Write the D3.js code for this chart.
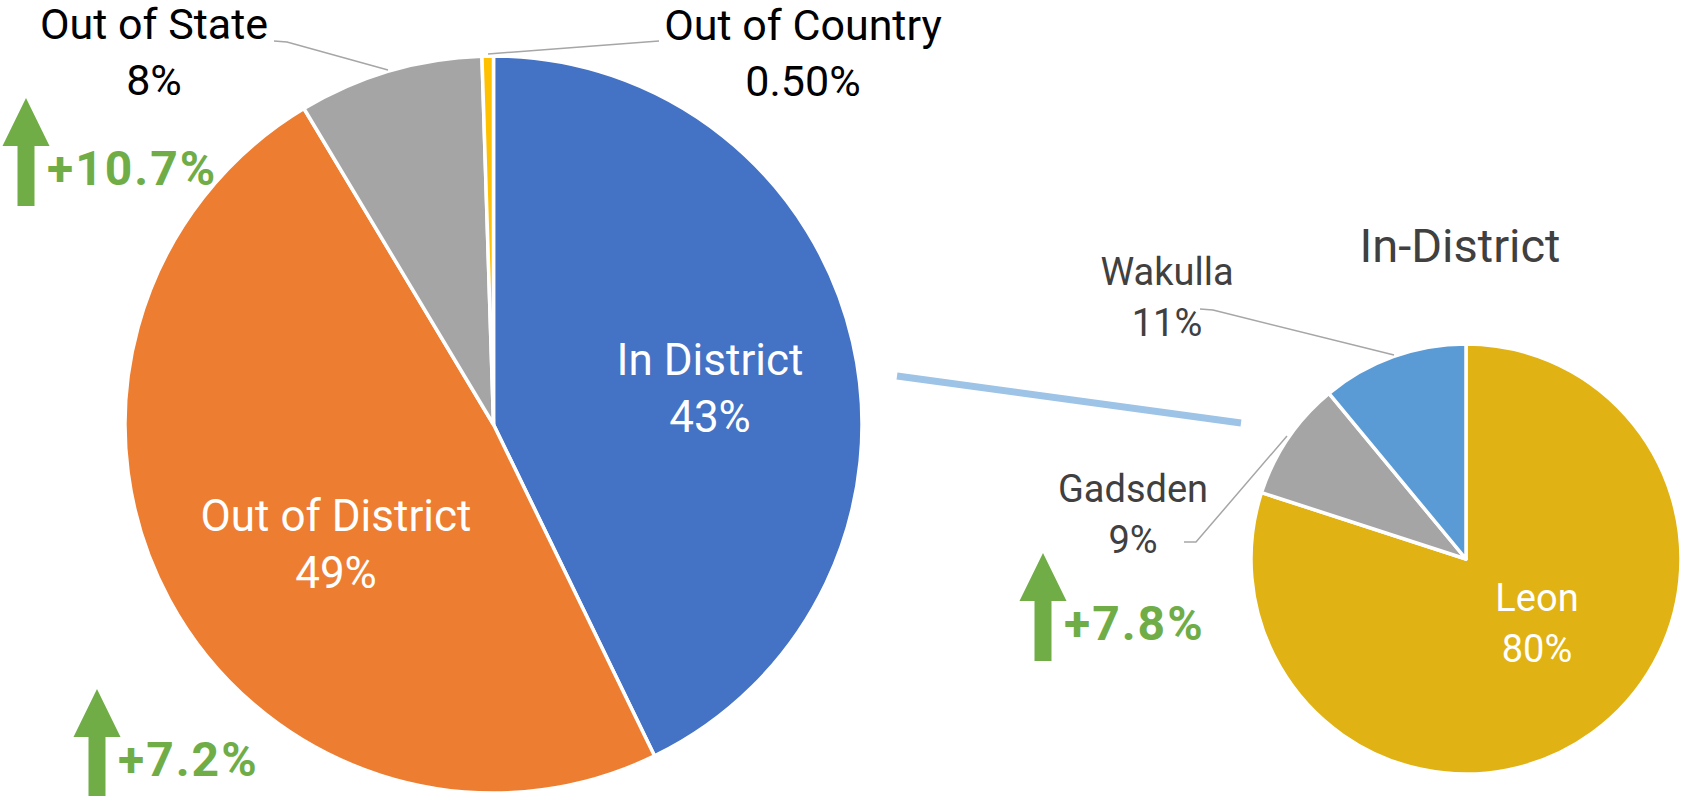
<!DOCTYPE html>
<html>
<head>
<meta charset="utf-8">
<script src="https://cdn.jsdelivr.net/npm/d3@7"></script>
<style>
  body { margin: 0; background: #fff; }
  svg { display: block; font-family: Roboto, "Liberation Sans", sans-serif; }
</style>
</head>
<body>
<div id="chart"></div>
<script>
// main pie: where students come from
const mainCategories = ["In District", "Out of District", "Out of State", "Out of Country"];
const mainValues = [42.8, 48.6, 8.1, 0.5];
const mainLabels = ["43%", "49%", "8%", "0.50%"];
const mainColors = ["#4472C4", "#ED7D31", "#A5A5A5", "#FFC000"];

// breakdown of the in-district slice
const subTitle = "In-District";
const subCategories = ["Leon", "Gadsden", "Wakulla"];
const subValues = [80, 9, 11];
const subLabels = ["80%", "9%", "11%"];
const subColors = ["#E1B213", "#A5A5A5", "#5B9BD5"];

// growth call-outs
const changes = ["+10.7%", "+7.2%", "+7.8%"];

const width = 1682, height = 796;

const svg = d3.select("#chart")
	.append("svg")
	.attr("width", width)
	.attr("height", height);

const pie = d3.pie().sort(null).value(d => d);

// Main pie
const main = { cx: 493.5, cy: 424.5, r: 368.5 };
const mainArc = d3.arc().innerRadius(0).outerRadius(main.r);

const gMain = svg.append("g").attr("transform", `translate(${main.cx},${main.cy})`);
gMain.selectAll("path")
	.data(pie(mainValues))
	.enter()
	.append("path")
	.attr("d", mainArc)
	.attr("fill", (d, i) => mainColors[i])
	.attr("stroke", "#fff")
	.attr("stroke-width", 3.5)
	.attr("stroke-linejoin", "round");

// Secondary pie
const sub = { cx: 1466, cy: 559, r: 215 };
const subArc = d3.arc().innerRadius(0).outerRadius(sub.r);

const gSub = svg.append("g").attr("transform", `translate(${sub.cx},${sub.cy})`);
gSub.selectAll("path")
	.data(pie(subValues))
	.enter()
	.append("path")
	.attr("d", subArc)
	.attr("fill", (d, i) => subColors[i])
	.attr("stroke", "#fff")
	.attr("stroke-width", 3.5)
	.attr("stroke-linejoin", "round");

// connector between the two pies
svg.append("line")
	.attr("x1", 897).attr("y1", 376)
	.attr("x2", 1241).attr("y2", 423)
	.attr("stroke", "#9DC3E6")
	.attr("stroke-width", 7);

// leader lines
const leaders = [
	[[274, 41], [287, 42], [388, 70]],
	[[659, 41], [488, 54]],
	[[1200, 309], [1213, 310], [1394, 355]],
	[[1184, 542], [1196, 542], [1287, 436]]
];
svg.selectAll("path.leader")
	.data(leaders)
	.enter()
	.append("path")
	.attr("class", "leader")
	.attr("d", d3.line())
	.attr("fill", "none")
	.attr("stroke", "#A6A6A6")
	.attr("stroke-width", 1.5);

// two-line labels
function label(x, y, lines, size, color, gap) {
	const t = svg.append("text")
		.attr("x", x)
		.attr("y", y)
		.attr("text-anchor", "middle")
		.style("font-size", size + "px")
		.attr("fill", color);
	lines.forEach((s, i) => {
		t.append("tspan").attr("x", x).attr("y", y + i * gap).text(s);
	});
}

label(710, 375, [mainCategories[0], mainLabels[0]], 44, "#fff", 57);
label(336, 531, [mainCategories[1], mainLabels[1]], 44, "#fff", 57);
label(154, 39, [mainCategories[2], mainLabels[2]], 43, "#000", 56);
label(803, 40, [mainCategories[3], mainLabels[3]], 43, "#000", 56);

label(1537, 611, [subCategories[0], subLabels[0]], 38, "#fff", 51);
label(1133, 502, [subCategories[1], subLabels[1]], 38, "#404040", 51);
label(1167, 285, [subCategories[2], subLabels[2]], 38, "#404040", 51);

svg.append("text")
	.attr("x", 1460)
	.attr("y", 262)
	.attr("text-anchor", "middle")
	.style("font-size", "47px")
	.attr("fill", "#404040")
	.text(subTitle);

// green up-arrows with change text
const arrows = [
	{ x: 26, y: 98 },
	{ x: 97, y: 689 },
	{ x: 1043, y: 553 }
];
const green = "#70AD47";
const arrowPath = d3.path();
arrowPath.moveTo(0, 0);
arrowPath.lineTo(23.5, 48);
arrowPath.lineTo(8.5, 48);
arrowPath.lineTo(8.5, 108);
arrowPath.lineTo(-8.5, 108);
arrowPath.lineTo(-8.5, 48);
arrowPath.lineTo(-23.5, 48);
arrowPath.closePath();

const gArrows = svg.selectAll("g.arrow")
	.data(arrows)
	.enter()
	.append("g")
	.attr("class", "arrow")
	.attr("transform", d => `translate(${d.x},${d.y})`);

gArrows.append("path")
	.attr("d", arrowPath.toString())
	.attr("fill", green);

gArrows.append("text")
	.attr("x", 21)
	.attr("y", 87)
	.style("font-size", "48px")
	.style("font-weight", "bold")
	.style("letter-spacing", "2px")
	.attr("fill", green)
	.text((d, i) => changes[i]);
</script>
</body>
</html>
